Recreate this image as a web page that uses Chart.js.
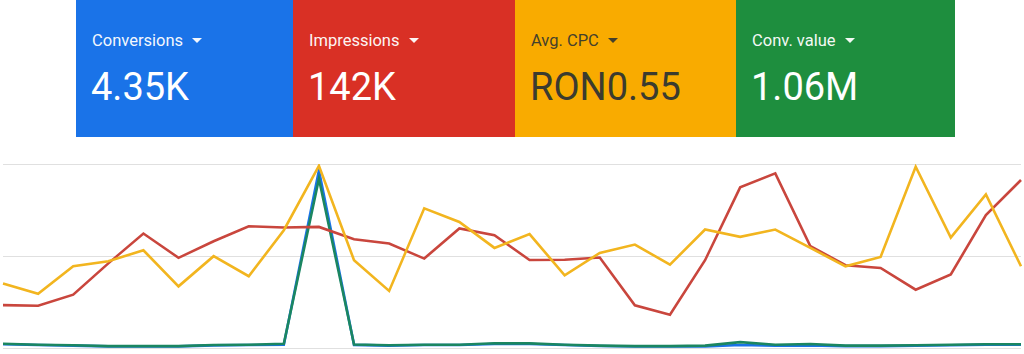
<!DOCTYPE html>
<html>
<head>
<meta charset="utf-8">
<script src="https://cdn.jsdelivr.net/npm/chart.js@4"></script>
<style>
  html, body { margin: 0; padding: 0; background: #fff; }
  body { width: 1024px; height: 354px; position: relative; overflow: hidden; font-family: Roboto, "Noto Sans", sans-serif; }
  .cards { position: absolute; left: 76px; top: 0; height: 137px; display: flex; }
  .card { position: relative; height: 137px; color: #fff; }
  .card .label { position: absolute; left: 16px; top: 31px; font-size: 16.5px; white-space: nowrap; opacity: 0.95; }
  .card .label .arrow { display: inline-block; width: 0; height: 0; margin-left: 9px; vertical-align: 3px;
    border-left: 5.5px solid transparent; border-right: 5.5px solid transparent; border-top: 5.5px solid currentColor; }
  .card .value { position: absolute; left: 15px; top: 65px; font-size: 38px; white-space: nowrap; }
  .chart-wrap { position: absolute; left: 0; top: 160px; width: 1024px; height: 194px; }
</style>
</head>
<body>
<div class="cards" id="cards"></div>
<div class="chart-wrap"><canvas id="lineChart" width="1024" height="194"></canvas></div>
<script>
// metric cards
const cardLabels = ["Conversions", "Impressions", "Avg. CPC", "Conv. value"]
const cardValues = ["4.35K", "142K", "RON0.55", "1.06M"]
const cardColors = ["#1a73e8", "#d93025", "#f9ab00", "#1e8e3e"]
const cardTextColors = ["#fff", "#fff", "#3b3b2f", "#fff"]
const cardWidths = [217, 222, 221, 219]

// 30 days, values normalised 0-100 per metric (chart has no axis labels)
const days = Array.from({ length: 30 }, (_, i) => "Day " + (i + 1))
const conversions = [2.0, 1.6, 1.3, 0.9, 0.9, 0.9, 1.4, 1.6, 1.8, 96.5, 1.7, 1.3, 1.6, 1.6, 2.2, 2.2, 1.6, 1.1, 0.8, 0.8, 0.9, 1.6, 1.2, 1.4, 1.0, 1.0, 1.2, 1.5, 1.8, 1.8]
const impressions = [23.3, 23, 29, 46, 62.2, 49, 58, 66.2, 65.5, 65.8, 59.1, 56.8, 48.6, 65, 61.3, 47.8, 48, 49.2, 23.2, 18.1, 47.7, 87.3, 94.9, 55.3, 45, 43.5, 31.7, 40, 72.2, 91.3]
const avgCpc = [35, 29.5, 44.4, 47.1, 53.1, 33.5, 49.9, 39, 64, 99, 47.7, 31, 75.9, 68.5, 54.4, 61.9, 39.5, 51.7, 56.2, 45.3, 64.4, 60.4, 64.4, 54.4, 44.4, 49.5, 98.5, 60, 83.5, 44.4]
const convValue = [2.3, 1.8, 1.5, 1.0, 1.0, 1.0, 1.6, 1.8, 2.3, 92, 1.9, 1.5, 1.8, 1.8, 2.6, 2.5, 1.8, 1.3, 1.0, 1.0, 1.3, 3.2, 1.8, 2.2, 1.3, 1.3, 1.5, 1.8, 2.0, 2.0]
const yTicks = [0, 50, 100]

// build cards
const cardsEl = document.getElementById("cards")
cardLabels.forEach((label, i) => {
  const card = document.createElement("div")
  card.className = "card"
  card.style.width = cardWidths[i] + "px"
  card.style.background = cardColors[i]
  card.style.color = cardTextColors[i]
  card.innerHTML = '<div class="label">' + label + '<span class="arrow"></span></div>' +
    '<div class="value">' + cardValues[i] + '</div>'
  cardsEl.appendChild(card)
})

function line(label, data, color) {
  return {
    label: label,
    data: data,
    borderColor: color,
    backgroundColor: color,
    borderWidth: 2.6,
    pointRadius: 0,
    tension: 0,
    fill: false
  }
}

const ctx = document.getElementById("lineChart").getContext("2d")
new Chart(ctx, {
  type: "line",
  data: {
    labels: days,
    datasets: [
      line("Avg. CPC", avgCpc, "#f2b51f"),
      line("Impressions", impressions, "#c9463d"),
      line("Conv. value", convValue, "#1b8661"),
      line("Conversions", conversions, "#1a73e8")
    ]
  },
  options: {
    responsive: false,
    animation: false,
    maintainAspectRatio: false,
    layout: { padding: { left: 3, right: 3, top: 4, bottom: 6 } },
    plugins: { legend: { display: false }, tooltip: { enabled: false } },
    scales: {
      x: {
        display: false,
        offset: false
      },
      y: {
        min: 0,
        max: 100,
        afterBuildTicks: (axis) => { axis.ticks = yTicks.map(v => ({ value: v })) },
        ticks: { display: false },
        grid: { color: "#e0e0e0", drawTicks: false, lineWidth: 1 },
        border: { display: false }
      }
    }
  }
})
</script>
</body>
</html>
